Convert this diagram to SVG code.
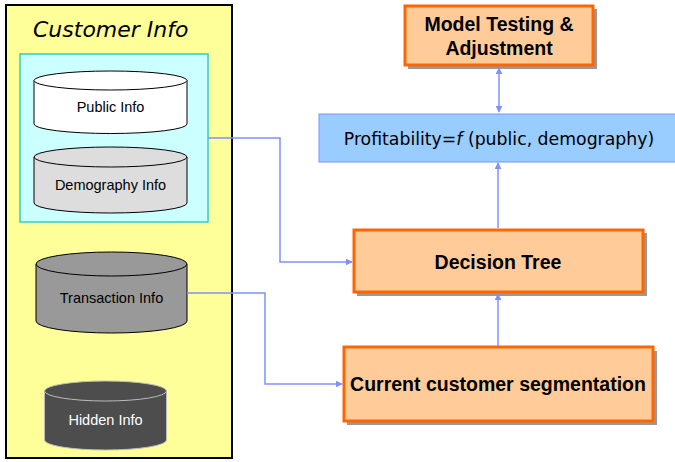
<svg xmlns="http://www.w3.org/2000/svg" width="675" height="462" viewBox="0 0 675 462">
  <style>
    .cyl { stroke: #000; stroke-width: 1; }
    .cyl-dark { stroke: #bbb; stroke-width: 1; }
    .cyl-label { font-family: "Liberation Sans", Arial, sans-serif; font-size: 14.5px; text-anchor: middle; fill: #000; }
    .box { fill: #FFCC99; stroke: #FF6600; stroke-width: 3; }
    .shadow { fill: #999; }
    .box-label { font-family: "Liberation Sans", Arial, sans-serif; font-size: 19.5px; font-weight: bold; text-anchor: middle; fill: #000; }
    .conn { fill: none; stroke: #8090FF; stroke-width: 1.5; }
  </style>
  <defs>
    <marker id="arrow" viewBox="0 0 10 10" refX="9" refY="5" markerWidth="7" markerHeight="7" orient="auto-start-reverse" markerUnits="userSpaceOnUse">
      <path d="M0,0 L10,5 L0,10 z" fill="#8090FF"/>
    </marker>
  </defs>

  <rect width="675" height="462" fill="#fff"/>

  <!-- Customer info container -->
  <g id="customer-info">
    <rect x="6" y="5" width="226" height="453" fill="#FFFF99" stroke="#000" stroke-width="2"/>
    <text x="33" y="37" font-family="'DejaVu Sans', Verdana, sans-serif" font-size="22" font-style="italic" fill="#000">Customer Info</text>
  </g>

  <!-- Group of public/demography sources -->
  <g id="profile-group">
    <rect x="20" y="54" width="188" height="168" fill="#CCFFFF" stroke="#33CCCC" stroke-width="1.5"/>
  </g>

  <g id="public-info">
    <path class="cyl" d="M34,80.5 V124 A76.5,9.5 0 0 0 187,124 V80.5" fill="#fff"/>
    <ellipse class="cyl" cx="110.5" cy="80.5" rx="76.5" ry="9.5" fill="#fff"/>
    <text class="cyl-label" x="110.5" y="112">Public Info</text>
  </g>

  <g id="demography-info">
    <path class="cyl" d="M34,157 V203 A76.5,10 0 0 0 187,203 V157" fill="#DDDDDD"/>
    <ellipse class="cyl" cx="110.5" cy="157" rx="76.5" ry="10" fill="#DDDDDD"/>
    <text class="cyl-label" x="110.5" y="190">Demography Info</text>
  </g>

  <g id="transaction-info">
    <path class="cyl" d="M36,264 V321 A75.5,12 0 0 0 187,321 V264" fill="#999999"/>
    <ellipse class="cyl" cx="111.5" cy="264" rx="75.5" ry="12" fill="#999999"/>
    <text class="cyl-label" x="111.5" y="303">Transaction Info</text>
  </g>

  <g id="hidden-info">
    <path class="cyl-dark" d="M44.5,391 V440 A61,10 0 0 0 166.5,440 V391" fill="#4D4D4D"/>
    <ellipse class="cyl-dark" cx="105.5" cy="391" rx="61" ry="10" fill="#4D4D4D"/>
    <text class="cyl-label" x="105.5" y="425" style="fill:#fff">Hidden Info</text>
  </g>

  <!-- Process boxes -->
  <g id="model-testing">
    <rect class="shadow" x="408" y="9" width="189" height="60"/>
    <rect class="box" x="405" y="6" width="188" height="59"/>
    <text class="box-label" x="499" y="31">Model Testing &amp;</text>
    <text class="box-label" x="499" y="55">Adjustment</text>
  </g>

  <g id="profitability">
    <rect x="319" y="114" width="362" height="48" fill="#99CCFF" stroke="#8090FF" stroke-width="1"/>
    <text x="499" y="145" font-family="'DejaVu Sans', Verdana, sans-serif" font-size="17.3" text-anchor="middle" fill="#000">Profitability=<tspan font-style="italic">f</tspan> (public, demography)</text>
  </g>

  <g id="decision-tree">
    <rect class="shadow" x="357" y="233" width="290" height="63"/>
    <rect class="box" x="354" y="230" width="289" height="62"/>
    <text class="box-label" x="498" y="269">Decision Tree</text>
  </g>

  <g id="segmentation">
    <rect class="shadow" x="347" y="351" width="310" height="74"/>
    <rect class="box" x="344" y="347" width="309" height="74"/>
    <text class="box-label" x="498" y="391">Current customer segmentation</text>
  </g>

  <!-- Connectors -->
  <g id="connectors">
    <path class="conn" d="M208,138 H280 V262 H352" marker-end="url(#arrow)"/>
    <path class="conn" d="M187,293 H265 V384 H342" marker-end="url(#arrow)"/>
    <path class="conn" d="M498,346 V294" marker-end="url(#arrow)"/>
    <path class="conn" d="M498,228 V163" marker-end="url(#arrow)"/>
    <path class="conn" d="M499,112 V68" marker-start="url(#arrow)" marker-end="url(#arrow)"/>
  </g>
</svg>
